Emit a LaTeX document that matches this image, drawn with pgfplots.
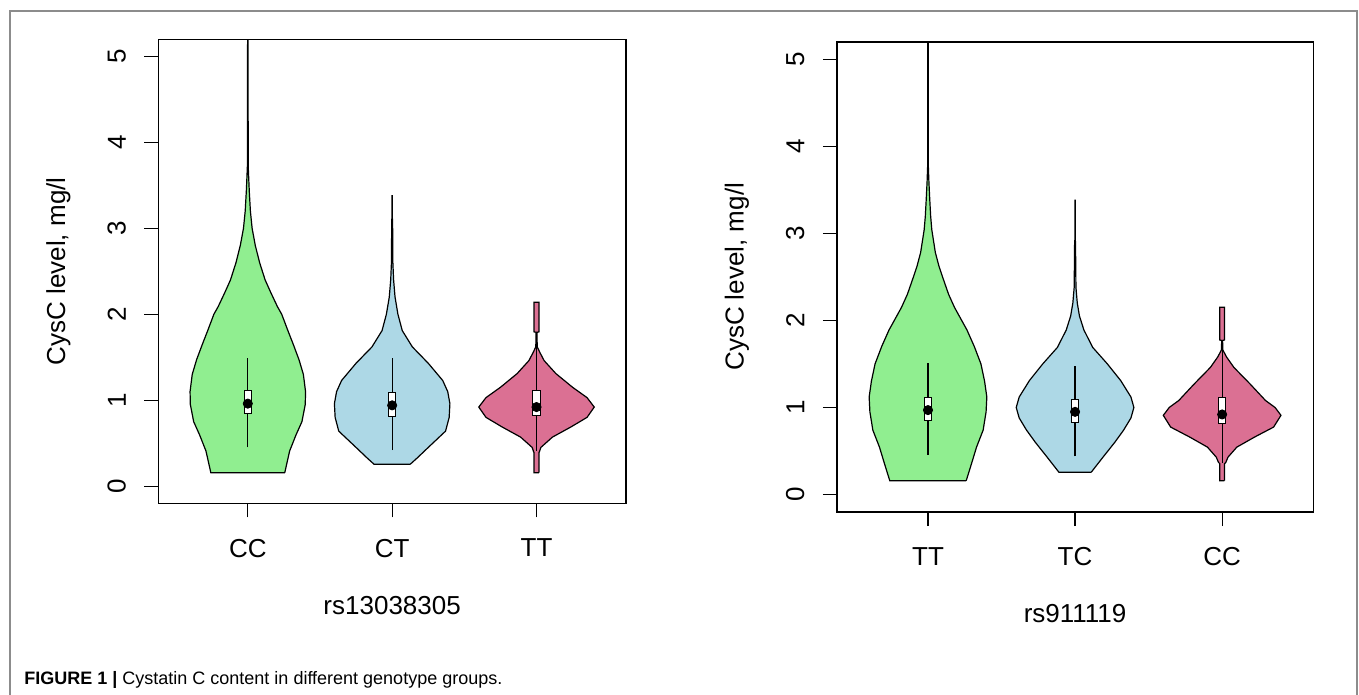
\documentclass[border=0pt]{standalone}
\usepackage{pgfplots}
\pgfplotsset{compat=1.18}
\usepackage{fontspec}
\setmainfont{Liberation Sans}
\definecolor{vgreen}{HTML}{90EE90}
\definecolor{vblue}{HTML}{ADD8E6}
\definecolor{vpink}{HTML}{DB7093}
\definecolor{framegray}{HTML}{8C8C8C}

\pgfplotsset{
  violinax/.style={
    scale only axis,
    xmin=0.38, xmax=3.62, ymin=-0.2, ymax=5.2,
    xtick={1,2,3}, ytick={0,1,2,3,4,5},
    tick align=outside, xtick pos=bottom, ytick pos=left,
    major tick length=7pt,
    tick style={black, line width=0.6pt},
    axis line style={line width=0.8pt},
    /pgf/number format/assume math mode=true,
    every tick label/.append style={font=\fontsize{13}{15}\selectfont},
    label style={font=\fontsize{13}{15}\selectfont},
    yticklabel style={rotate=90, anchor=south, inner sep=0pt, yshift=9pt},
    xticklabel style={anchor=north, inner sep=0pt, yshift=-10.6pt},
    ylabel={CysC level, mg/l},
    ylabel style={at={(axis description cs:0,0.5)}, anchor=center, yshift=50pt},
    xlabel style={at={(axis description cs:0.5,0)}, anchor=center, yshift=-51pt},
  },
  violin/.style={draw=black, line width=0.6pt, fill=#1},
  whisk/.style={draw=black, line width=0.6pt},
  vbox/.style={draw=black, line width=0.5pt, fill=white},
  vmed/.style={only marks, mark=*, mark size=2.3pt, mark options={draw=black, fill=black}},
}

\begin{document}
\begin{tikzpicture}
\useasboundingbox (0,0) rectangle (679.5pt,-347.5pt);
\draw[framegray, line width=1pt] (5pt,-348pt) -- (5pt,-5.5pt) -- (678.5pt,-5.5pt) -- (678.5pt,-348pt);

% ---- left panel: rs13038305 ----
\begin{axis}[violinax, at={(79.15pt,-251.65pt)}, anchor=south west,
  width=233.85pt, height=232pt,
  xticklabels={CC,CT,TT}, xlabel={rs13038305}]
% CC
\addplot[violin=vgreen] coordinates {
(1.256,0.156)(1.29,0.41)(1.335,0.6)(1.375,0.75)(1.398,0.95)(1.40,1.1)(1.385,1.3)(1.355,1.47)(1.315,1.65)(1.28,1.8)(1.235,2.0)(1.205,2.09)(1.16,2.25)(1.12,2.4)(1.082,2.6)(1.052,2.8)(1.03,3.0)(1.018,3.2)(1.01,3.44)(1.003,3.72)(1.001,5.5)
(0.999,5.5)(0.997,3.72)(0.99,3.44)(0.982,3.2)(0.97,3.0)(0.948,2.8)(0.918,2.6)(0.88,2.4)(0.84,2.25)(0.795,2.09)(0.765,2.0)(0.72,1.8)(0.685,1.65)(0.645,1.47)(0.615,1.3)(0.60,1.1)(0.602,0.95)(0.625,0.75)(0.665,0.6)(0.71,0.41)(0.744,0.156)(1.256,0.156)};
% CT
\addplot[violin=vblue] coordinates {
(2.125,0.254)(2.175,0.33)(2.25,0.45)(2.37,0.64)(2.395,0.8)(2.40,0.96)(2.385,1.1)(2.35,1.23)(2.25,1.43)(2.14,1.62)(2.07,1.81)(2.04,2.0)(2.02,2.2)(2.01,2.4)(2.005,2.6)(2.003,3.1)(2.001,3.12)(2.001,3.38)
(1.999,3.38)(1.999,3.12)(1.997,3.1)(1.995,2.6)(1.99,2.4)(1.98,2.2)(1.96,2.0)(1.93,1.81)(1.86,1.62)(1.75,1.43)(1.65,1.23)(1.615,1.1)(1.60,0.96)(1.605,0.8)(1.63,0.64)(1.75,0.45)(1.825,0.33)(1.875,0.254)(2.125,0.254)};
% TT
\addplot[violin=vpink] coordinates {
(3.017,0.156)(3.017,0.39)(3.02,0.40)(3.03,0.45)(3.11,0.57)(3.24,0.69)(3.35,0.80)(3.40,0.92)(3.35,1.03)(3.25,1.15)(3.134,1.31)(3.053,1.46)(3.025,1.55)(3.005,1.62)(3.003,1.79)(3.017,1.795)(3.017,2.14)
(2.983,2.14)(2.983,1.795)(2.997,1.79)(2.995,1.62)(2.975,1.55)(2.947,1.46)(2.866,1.31)(2.75,1.15)(2.65,1.03)(2.60,0.92)(2.65,0.80)(2.76,0.69)(2.89,0.57)(2.97,0.45)(2.98,0.40)(2.983,0.39)(2.983,0.156)(3.017,0.156)};
% whiskers
\addplot[whisk] coordinates {(1,0.45)(1,1.49)};
\addplot[whisk] coordinates {(2,0.42)(2,1.49)};
\addplot[whisk] coordinates {(3,0.41)(3,1.62)};
% boxes
\addplot[vbox] coordinates {(0.974,0.846)(1.026,0.846)(1.026,1.11)(0.974,1.11)(0.974,0.846)};
\addplot[vbox] coordinates {(1.974,0.81)(2.026,0.81)(2.026,1.09)(1.974,1.09)(1.974,0.81)};
\addplot[vbox] coordinates {(2.974,0.82)(3.026,0.82)(3.026,1.11)(2.974,1.11)(2.974,0.82)};
% medians
\addplot[vmed] coordinates {(1,0.96)(2,0.94)(3,0.92)};
\end{axis}

% ---- right panel: rs911119 ----
\begin{axis}[violinax, at={(418.4pt,-256pt)}, anchor=south west,
  width=238.25pt, height=235.15pt,
  xticklabels={TT,TC,CC}, xlabel={rs911119}]
% TT
\addplot[violin=vgreen] coordinates {
(1.26,0.16)(1.295,0.35)(1.33,0.545)(1.375,0.74)(1.395,0.95)(1.40,1.12)(1.385,1.3)(1.36,1.5)(1.315,1.7)(1.265,1.89)(1.18,2.15)(1.14,2.3)(1.105,2.47)(1.075,2.62)(1.05,2.78)(1.026,3.04)(1.018,3.2)(1.012,3.39)(1.006,3.6)(1.002,3.79)(1.001,5.5)
(0.999,5.5)(0.998,3.79)(0.994,3.6)(0.988,3.39)(0.982,3.2)(0.974,3.04)(0.95,2.78)(0.925,2.62)(0.895,2.47)(0.86,2.3)(0.82,2.15)(0.735,1.89)(0.685,1.7)(0.64,1.5)(0.615,1.3)(0.60,1.12)(0.605,0.95)(0.625,0.74)(0.67,0.545)(0.705,0.35)(0.74,0.16)(1.26,0.16)};
% TC
\addplot[violin=vblue] coordinates {
(2.11,0.257)(2.19,0.43)(2.27,0.6)(2.33,0.74)(2.38,0.88)(2.40,1.0)(2.38,1.12)(2.31,1.31)(2.22,1.5)(2.12,1.69)(2.06,1.89)(2.03,2.05)(2.015,2.2)(2.006,2.38)(2.003,2.9)(2.001,2.93)(2.001,3.38)
(1.999,3.38)(1.999,2.93)(1.997,2.9)(1.994,2.38)(1.985,2.2)(1.97,2.05)(1.94,1.89)(1.88,1.69)(1.78,1.5)(1.69,1.31)(1.62,1.12)(1.60,1.0)(1.62,0.88)(1.67,0.74)(1.73,0.6)(1.81,0.43)(1.89,0.257)(2.11,0.257)};
% CC
\addplot[violin=vpink] coordinates {
(3.016,0.16)(3.016,0.355)(3.025,0.37)(3.04,0.43)(3.10,0.545)(3.22,0.66)(3.35,0.775)(3.40,0.91)(3.36,1.0)(3.295,1.08)(3.19,1.27)(3.08,1.46)(3.03,1.58)(3.005,1.66)(3.003,1.77)(3.016,1.775)(3.016,2.15)
(2.984,2.15)(2.984,1.775)(2.997,1.77)(2.995,1.66)(2.97,1.58)(2.92,1.46)(2.81,1.27)(2.705,1.08)(2.64,1.0)(2.60,0.91)(2.65,0.775)(2.78,0.66)(2.90,0.545)(2.96,0.43)(2.975,0.37)(2.984,0.355)(2.984,0.16)(3.016,0.16)};
% whiskers
\addplot[whisk] coordinates {(1,0.46)(1,1.515)};
\addplot[whisk] coordinates {(2,0.44)(2,1.476)};
\addplot[whisk] coordinates {(3,0.36)(3,1.66)};
% boxes
\addplot[vbox] coordinates {(0.974,0.85)(1.026,0.85)(1.026,1.12)(0.974,1.12)(0.974,0.85)};
\addplot[vbox] coordinates {(1.974,0.83)(2.026,0.83)(2.026,1.09)(1.974,1.09)(1.974,0.83)};
\addplot[vbox] coordinates {(2.974,0.82)(3.026,0.82)(3.026,1.12)(2.974,1.12)(2.974,0.82)};
% medians
\addplot[vmed] coordinates {(1,0.97)(2,0.95)(3,0.92)};
\end{axis}

\node[anchor=west, inner sep=0pt, font=\fontsize{9}{11}\selectfont] at (12pt,-340pt)
  {\textbf{FIGURE 1 |} Cystatin C content in different genotype groups.};
\end{tikzpicture}
\end{document}
